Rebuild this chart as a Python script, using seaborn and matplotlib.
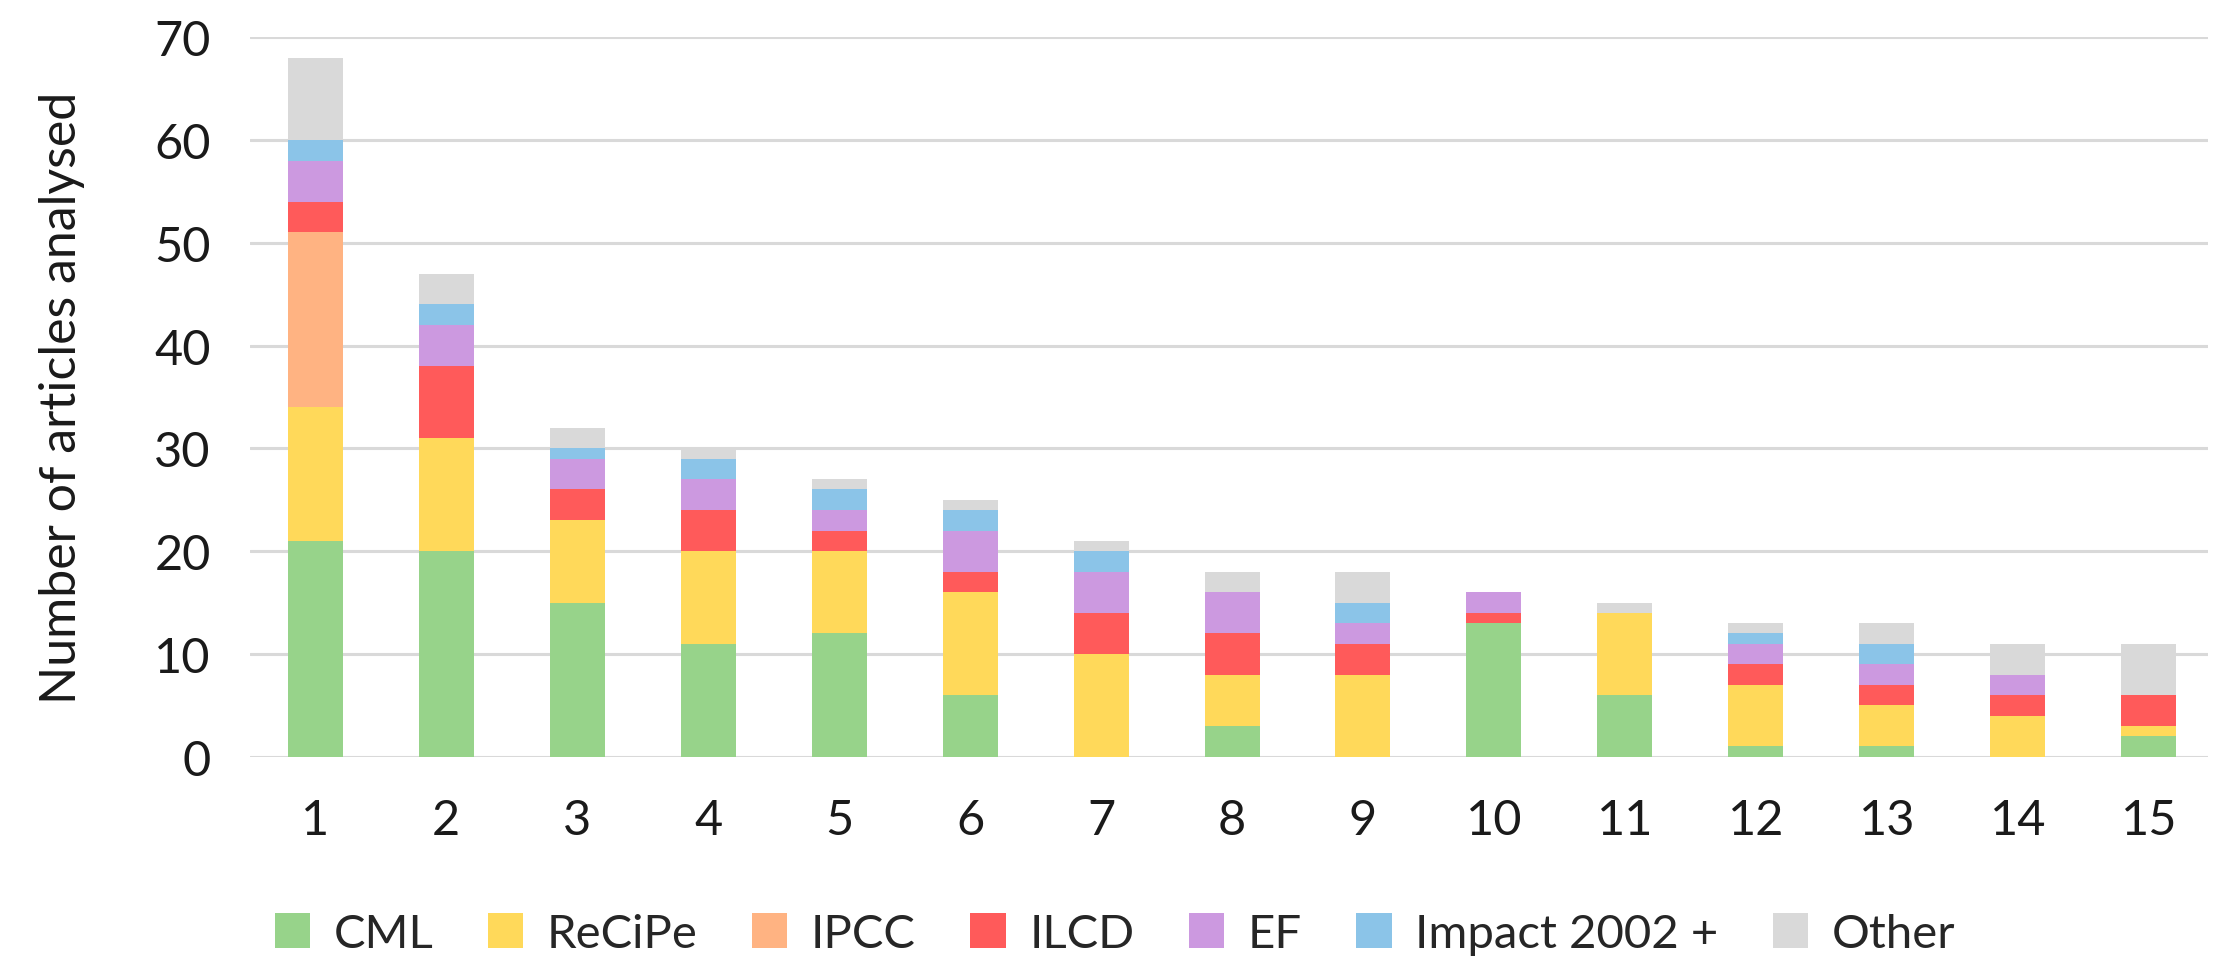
import numpy as np
import pandas as pd
import matplotlib
matplotlib.use("Agg")
import matplotlib.pyplot as plt
import seaborn as sns
from matplotlib.patches import Patch

categories = [str(i) for i in range(1, 16)]
series_names = ["CML", "ReCiPe", "IPCC", "ILCD", "EF", "Impact 2002 +", "Other"]
cml    = [21, 20, 15, 11, 12, 6, 0, 3, 0, 13, 6, 1, 1, 0, 2]
recipe = [13, 11, 8, 9, 8, 10, 10, 5, 8, 0, 8, 6, 4, 4, 1]
ipcc   = [17, 0, 0, 0, 0, 0, 0, 0, 0, 0, 0, 0, 0, 0, 0]
ilcd   = [3, 7, 3, 4, 2, 2, 4, 4, 3, 1, 0, 2, 2, 2, 3]
ef     = [4, 4, 3, 3, 2, 4, 4, 4, 2, 2, 0, 2, 2, 2, 0]
impact = [2, 2, 1, 2, 2, 2, 2, 0, 2, 0, 0, 1, 2, 0, 0]
other  = [8, 3, 2, 1, 1, 1, 1, 2, 3, 0, 1, 1, 2, 3, 5]
colors = ["#97D38A", "#FFD95A", "#FFB382", "#FF5A5A", "#CC99E0", "#8BC4E8", "#D9D9D9"]

series = [cml, recipe, ipcc, ilcd, ef, impact, other]
cum = np.cumsum(np.array(series), axis=0)

sns.set_theme(style="white")
plt.rcParams["font.family"] = ["Lato", "DejaVu Sans"]

fig = plt.figure(figsize=(22.3, 9.79), dpi=100)
ax = fig.add_axes([0.112, 0.226, 0.878, 0.735])

for i in range(len(series) - 1, -1, -1):
    df = pd.DataFrame({"cat": categories, "val": cum[i]})
    sns.barplot(data=df, x="cat", y="val", color=colors[i], width=0.42,
                saturation=1, ax=ax, zorder=3, edgecolor="none", linewidth=0)

ax.set_ylim(0, 70)
ax.set_xlim(-0.5, 14.45)
ax.set_yticks(range(0, 71, 10))
ax.yaxis.grid(True, color="#D9D9D9", linewidth=2.2, zorder=0)
ax.set_axisbelow(True)
for s in ax.spines.values():
    s.set_visible(False)
ax.tick_params(axis="both", length=0, labelsize=35, colors="#1a1a1a")
ax.tick_params(axis="x", pad=30)
ax.tick_params(axis="y", pad=28)
ax.set_xlabel("")
ax.set_ylabel("Number of articles analysed", fontsize=36, color="#1a1a1a", labelpad=50)

handles = [Patch(facecolor=c, edgecolor="none") for c in colors]
fig.legend(handles, series_names, loc="center", bbox_to_anchor=(0.5, 0.045), ncol=7,
           frameon=False, fontsize=34, handlelength=0.75, handleheight=0.75,
           columnspacing=1.15, handletextpad=0.5)

fig.savefig("out.png", dpi=100, facecolor="white")
